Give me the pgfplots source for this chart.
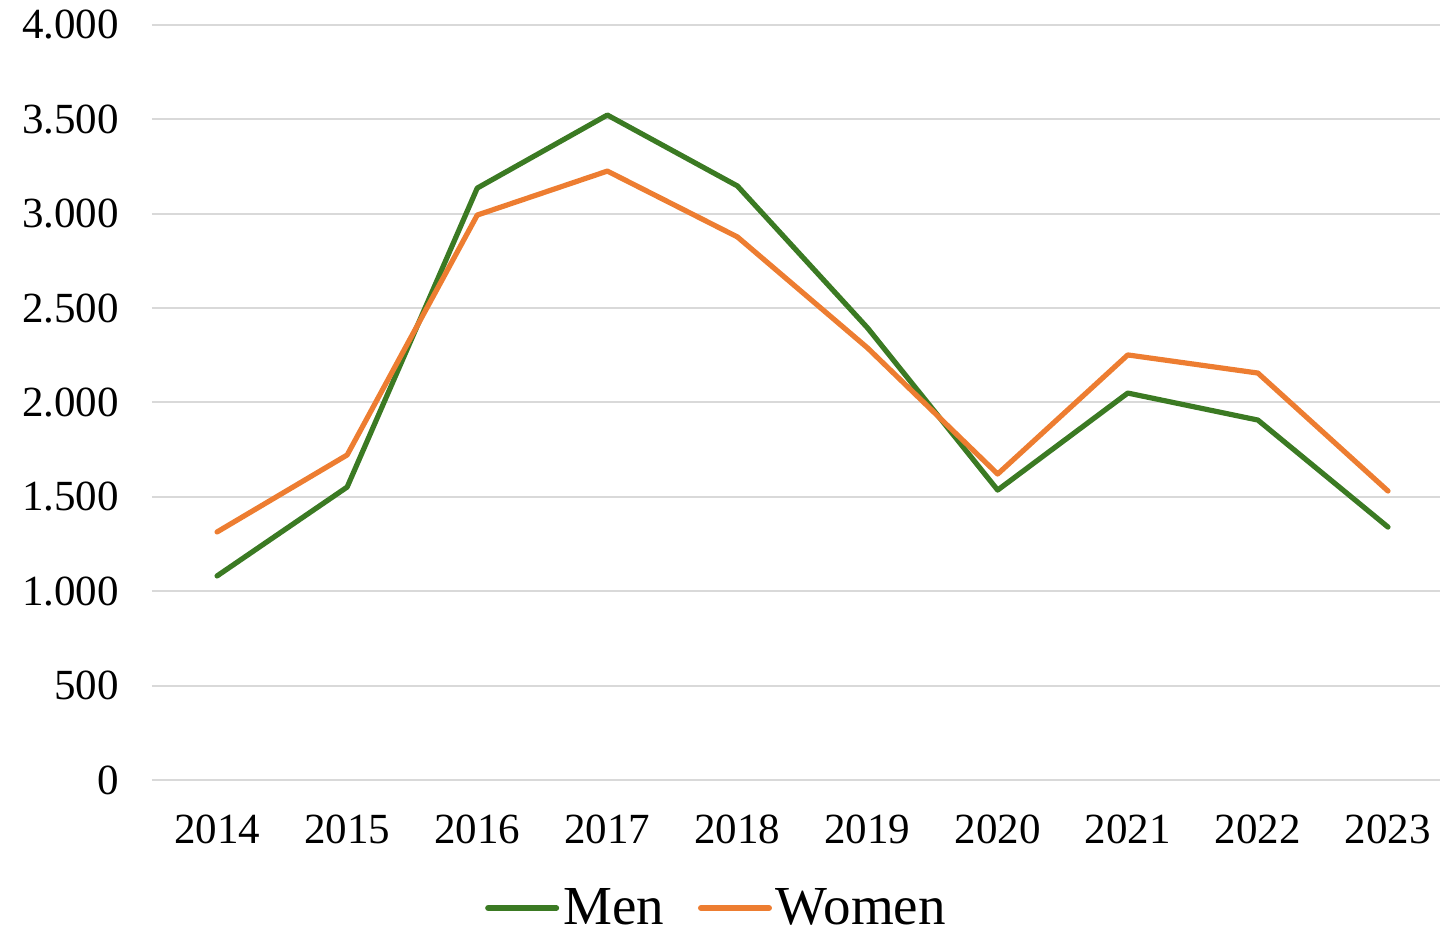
\documentclass[border=0pt]{standalone}
\usepackage{fontspec}
\setmainfont{Liberation Serif}
\usepackage{pgfplots}
\pgfplotsset{compat=1.18}
\definecolor{mengreen}{RGB}{59,122,35}
\definecolor{womenorange}{RGB}{237,125,49}
\definecolor{gridgray}{RGB}{217,217,217}

\begin{document}
\begin{tikzpicture}
\begin{axis}[scale only axis,width=644pt,height=377.5pt,
  xmin=2013.5,xmax=2023.4,ymin=0,ymax=4000,
  xtick={2014,...,2023},ytick={0,500,...,4000},
  axis line style={draw=none},major tick length=0pt,
  ymajorgrids,grid style={draw=gridgray,line width=1pt},
  /pgf/number format/assume math mode=true,
  /pgf/number format/1000 sep={.},
  x tick label style={/pgf/number format/1000 sep={},yshift=-14pt},
  y tick label style={xshift=-13pt},
  tick label style={font=\fontsize{21.5}{25}\selectfont},
  legend columns=2,
  legend style={draw=none,fill=none,at={(rel axis cs:0.439,0)},anchor=center,
    yshift=-64pt,font=\fontsize{27.5}{32}\selectfont,
    /tikz/every even column/.append style={column sep=15pt}},
  legend image code/.code={\draw[#1,line width=3pt,line cap=round] (0pt,0pt) -- (34pt,0pt);},
  clip=false]
\addplot[mengreen,line width=2.6pt,line join=round,line cap=round] coordinates
  {(2014,1081) (2015,1552) (2016,3136) (2017,3523) (2018,3147)
   (2019,2395) (2020,1536) (2021,2050) (2022,1907) (2023,1340)};
\addplot[womenorange,line width=2.6pt,line join=round,line cap=round] coordinates
  {(2014,1314) (2015,1722) (2016,2993) (2017,3226) (2018,2877)
   (2019,2289) (2020,1621) (2021,2252) (2022,2156) (2023,1531)};
\legend{Men,Women}
\coordinate (sw) at (rel axis cs:0,0);
\coordinate (ne) at (rel axis cs:1,1);
\end{axis}
\pgfresetboundingbox
\path ([shift={(-76pt,-77pt)}]sw) rectangle ([shift={(0pt,12.5pt)}]ne);
\end{tikzpicture}
\end{document}
